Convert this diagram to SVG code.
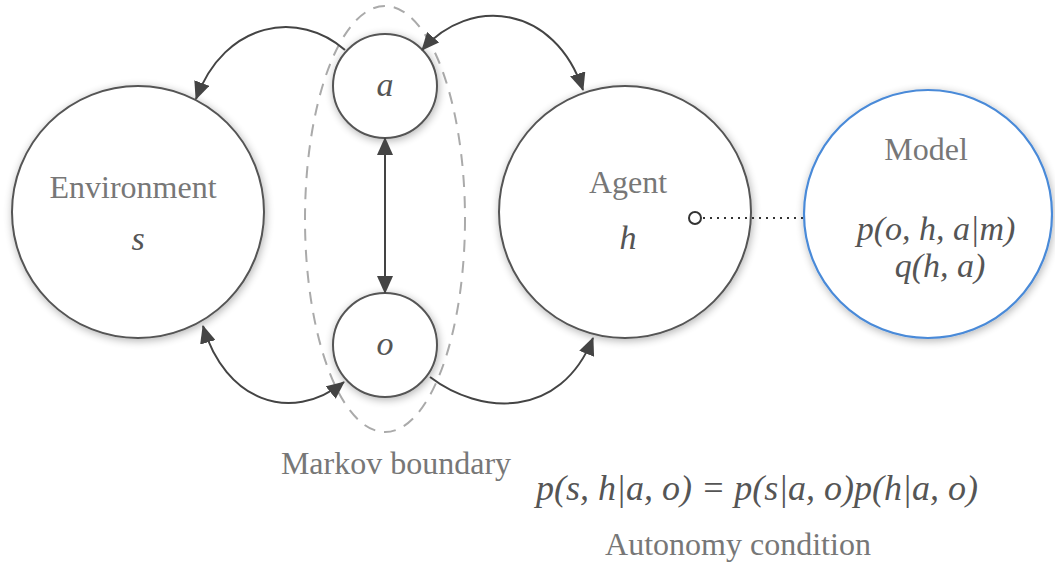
<svg xmlns="http://www.w3.org/2000/svg" width="1055" height="563" viewBox="0 0 1055 563">
  <defs>
    <filter id="soft" x="-20%" y="-20%" width="140%" height="140%">
      <feGaussianBlur in="SourceAlpha" stdDeviation="4"/>
      <feOffset dx="1" dy="2" result="b"/>
      <feComponentTransfer><feFuncA type="linear" slope="0.3"/></feComponentTransfer>
      <feMerge><feMergeNode/><feMergeNode in="SourceGraphic"/></feMerge>
    </filter>
    <marker id="arrow" viewBox="0 0 18 16" refX="17" refY="8" markerWidth="18" markerHeight="16" markerUnits="userSpaceOnUse" orient="auto-start-reverse">
      <path d="M0,0 L18,8 L0,16 z" fill="#444"/>
    </marker>
  </defs>
  <style>
    .node { fill: #fff; stroke: #555; stroke-width: 2; filter: url(#soft); }
    .model { fill: #fff; stroke: #4a8ad8; stroke-width: 2.2; filter: url(#soft); }
    .label { font-family: "Liberation Serif", serif; fill: #777; text-anchor: middle; font-size: 32px; }
    .math { font-family: "Liberation Serif", serif; font-style: italic; fill: #555; text-anchor: middle; }
    .edge { fill: none; stroke: #444; stroke-width: 2; }
  </style>
  <rect width="1055" height="563" fill="#fff"/>

  <!-- Markov boundary -->
  <ellipse cx="385" cy="219" rx="80" ry="213" fill="none" stroke="#aaa" stroke-width="2" stroke-dasharray="12 9"/>

  <g id="environment">
    <circle class="node" cx="138" cy="212" r="126"/>
    <text class="label" x="133" y="198">Environment</text>
    <text class="math" x="138" y="250" font-size="34">s</text>
  </g>

  <g id="agent">
    <circle class="node" cx="625" cy="212" r="126"/>
    <text class="label" x="628" y="193">Agent</text>
    <text class="math" x="628" y="249" font-size="34">h</text>
  </g>

  <g id="model">
    <circle class="model" cx="928" cy="214" r="124"/>
    <text class="label" x="926" y="160">Model</text>
    <text class="math" x="936" y="240" font-size="34">p(o, h, a|m)</text>
    <text class="math" x="940" y="277" font-size="34">q(h, a)</text>
  </g>

  <g id="action">
    <circle class="node" cx="385" cy="86" r="52"/>
    <text class="math" x="385" y="96" font-size="34">a</text>
  </g>

  <g id="observation">
    <circle class="node" cx="385" cy="345" r="52"/>
    <text class="math" x="385" y="355" font-size="34">o</text>
  </g>

  <g id="connectors">
    <path class="edge" d="M345,50 C300,10 225,20 196,99" marker-end="url(#arrow)"/>
    <path class="edge" d="M422,50 C470,-5 555,5 583,90" marker-start="url(#arrow)" marker-end="url(#arrow)"/>
    <line class="edge" x1="385" y1="138" x2="385" y2="293" marker-start="url(#arrow)" marker-end="url(#arrow)"/>
    <path class="edge" d="M203,326 C225,400 290,425 344,382" marker-start="url(#arrow)" marker-end="url(#arrow)"/>
    <path class="edge" d="M430,377 C480,415 560,420 593,338" marker-end="url(#arrow)"/>
    <circle cx="695" cy="218" r="6" fill="#fff" stroke="#333" stroke-width="2"/>
    <line x1="703" y1="218" x2="804" y2="218" stroke="#333" stroke-width="2" stroke-dasharray="2 5"/>
  </g>

  <text class="label" x="396" y="474">Markov boundary</text>
  <text class="math" x="757" y="500" font-size="36">p(s, h|a, o) = p(s|a, o)p(h|a, o)</text>
  <text class="label" x="738" y="555">Autonomy condition</text>
</svg>
